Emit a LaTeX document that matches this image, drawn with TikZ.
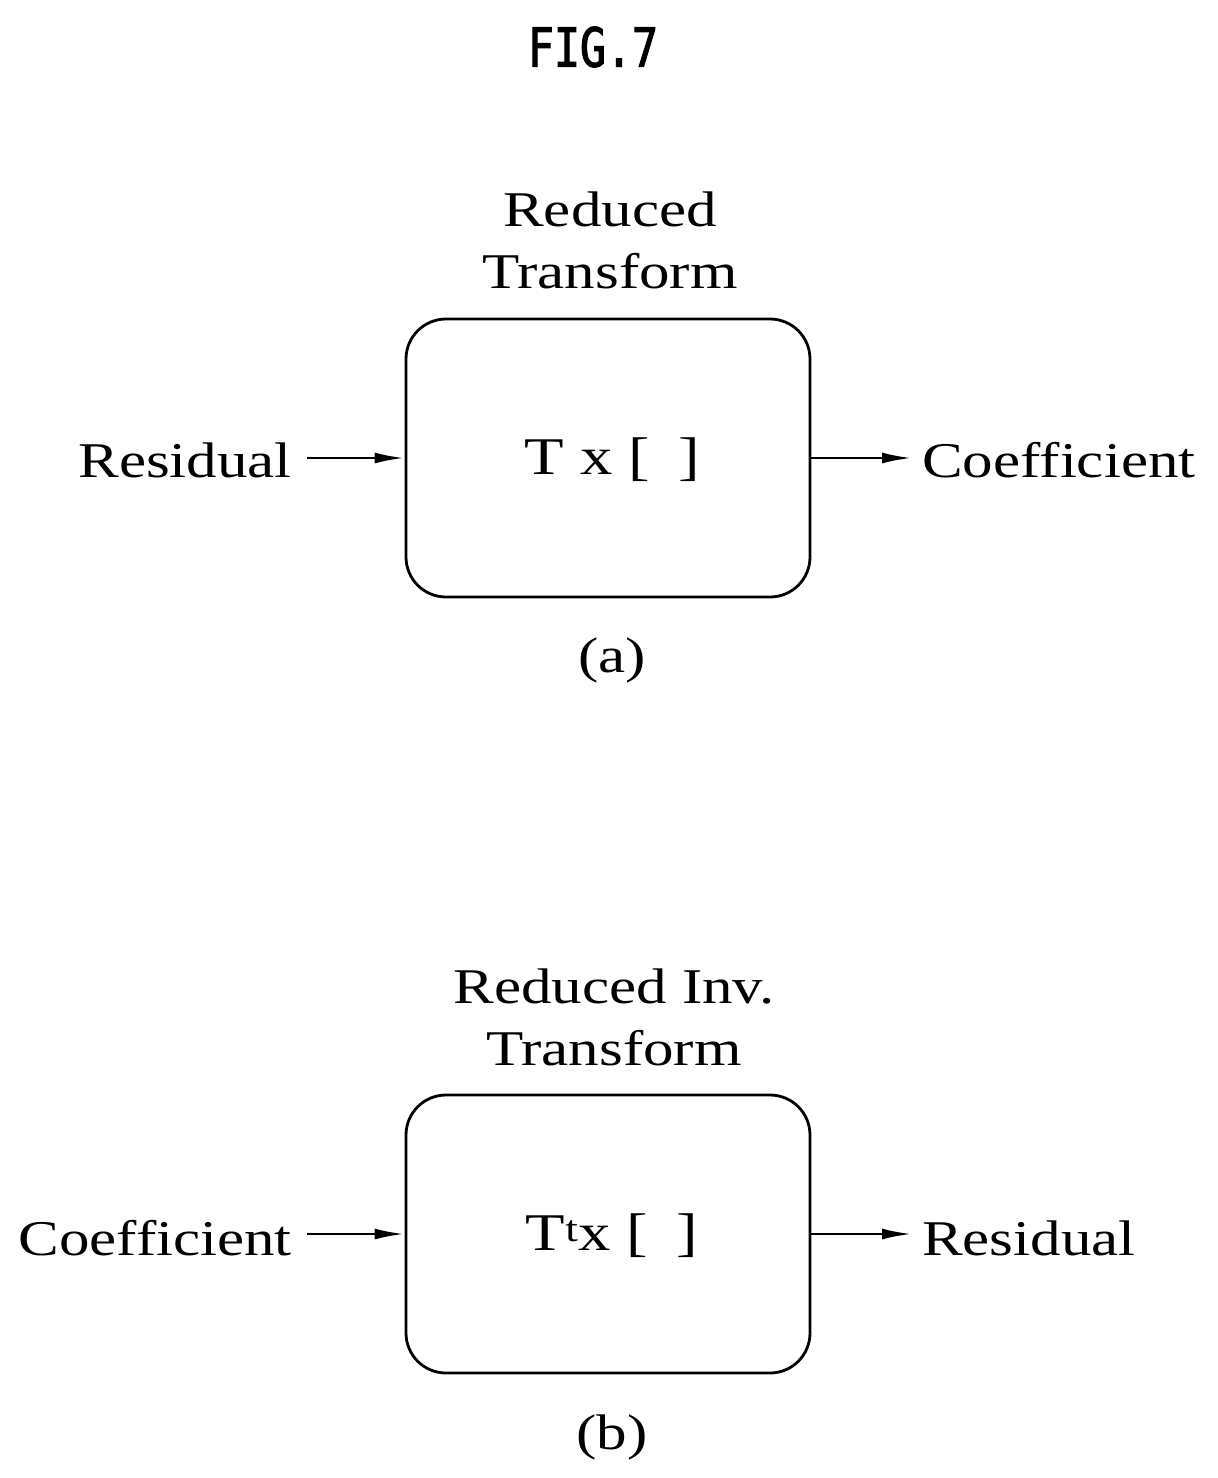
\documentclass[tikz,border=0pt]{standalone}
\usepackage{fontspec}
\setmainfont{Liberation Serif}[FakeStretch=1.22]
\newfontfamily\titlefont{DejaVu Sans Mono}[FakeStretch=0.8,FakeBold=2]
\usetikzlibrary{arrows.meta}
\begin{document}
\begin{tikzpicture}[x=1pt,y=-1pt,
  box/.style={draw,line width=2.8pt,rounded corners=40pt,minimum width=404pt,minimum height=278pt},
  lbl/.style={font=\fontsize{50}{62}\selectfont,inner sep=0pt},
  arr/.style={line width=2.8pt,-{Latex[length=30pt,width=11pt]}}]
\useasboundingbox (0,0) rectangle (1218,1478);
\node[font=\fontsize{54}{60}\selectfont\titlefont] (title) at (593,47) {FIG.7};
% (a)
\node[box] (A) at (608,458) {};
\node[lbl,font=\fontsize{53}{62}\selectfont] at (612,460) {T x [\kern 28pt]};
\node[lbl,align=center] (Atitle) at (610,240) {Reduced\\Transform};
\node[lbl,anchor=east] (Ain) at (292,460) {Residual};
\node[lbl,anchor=west] (Aout) at (922,460) {Coefficient};
\node[lbl] (Acap) at (612,660) {(a)};
\draw[arr] (Ain.east)++(15,-2) coordinate (a1) (a1) -- (A.west|-a1);
\draw[arr] (A.east|-a1) -- ([xshift=-10pt]Aout.west|-a1);
% (b)
\node[box] (B) at (608,1234) {};
\node[lbl,font=\fontsize{53}{62}\selectfont] at (612,1236) {T\textsuperscript{t}x [\kern 28pt]};
\node[lbl,align=center] (Btitle) at (614,1017) {Reduced Inv.\\Transform};
\node[lbl,anchor=east] (Bin) at (292,1238) {Coefficient};
\node[lbl,anchor=west] (Bout) at (922,1238) {Residual};
\node[lbl] (Bcap) at (612,1437) {(b)};
\draw[arr] (Bin.east)++(15,-4) coordinate (b1) (b1) -- (B.west|-b1);
\draw[arr] (B.east|-b1) -- ([xshift=-10pt]Bout.west|-b1);
\end{tikzpicture}
\end{document}
